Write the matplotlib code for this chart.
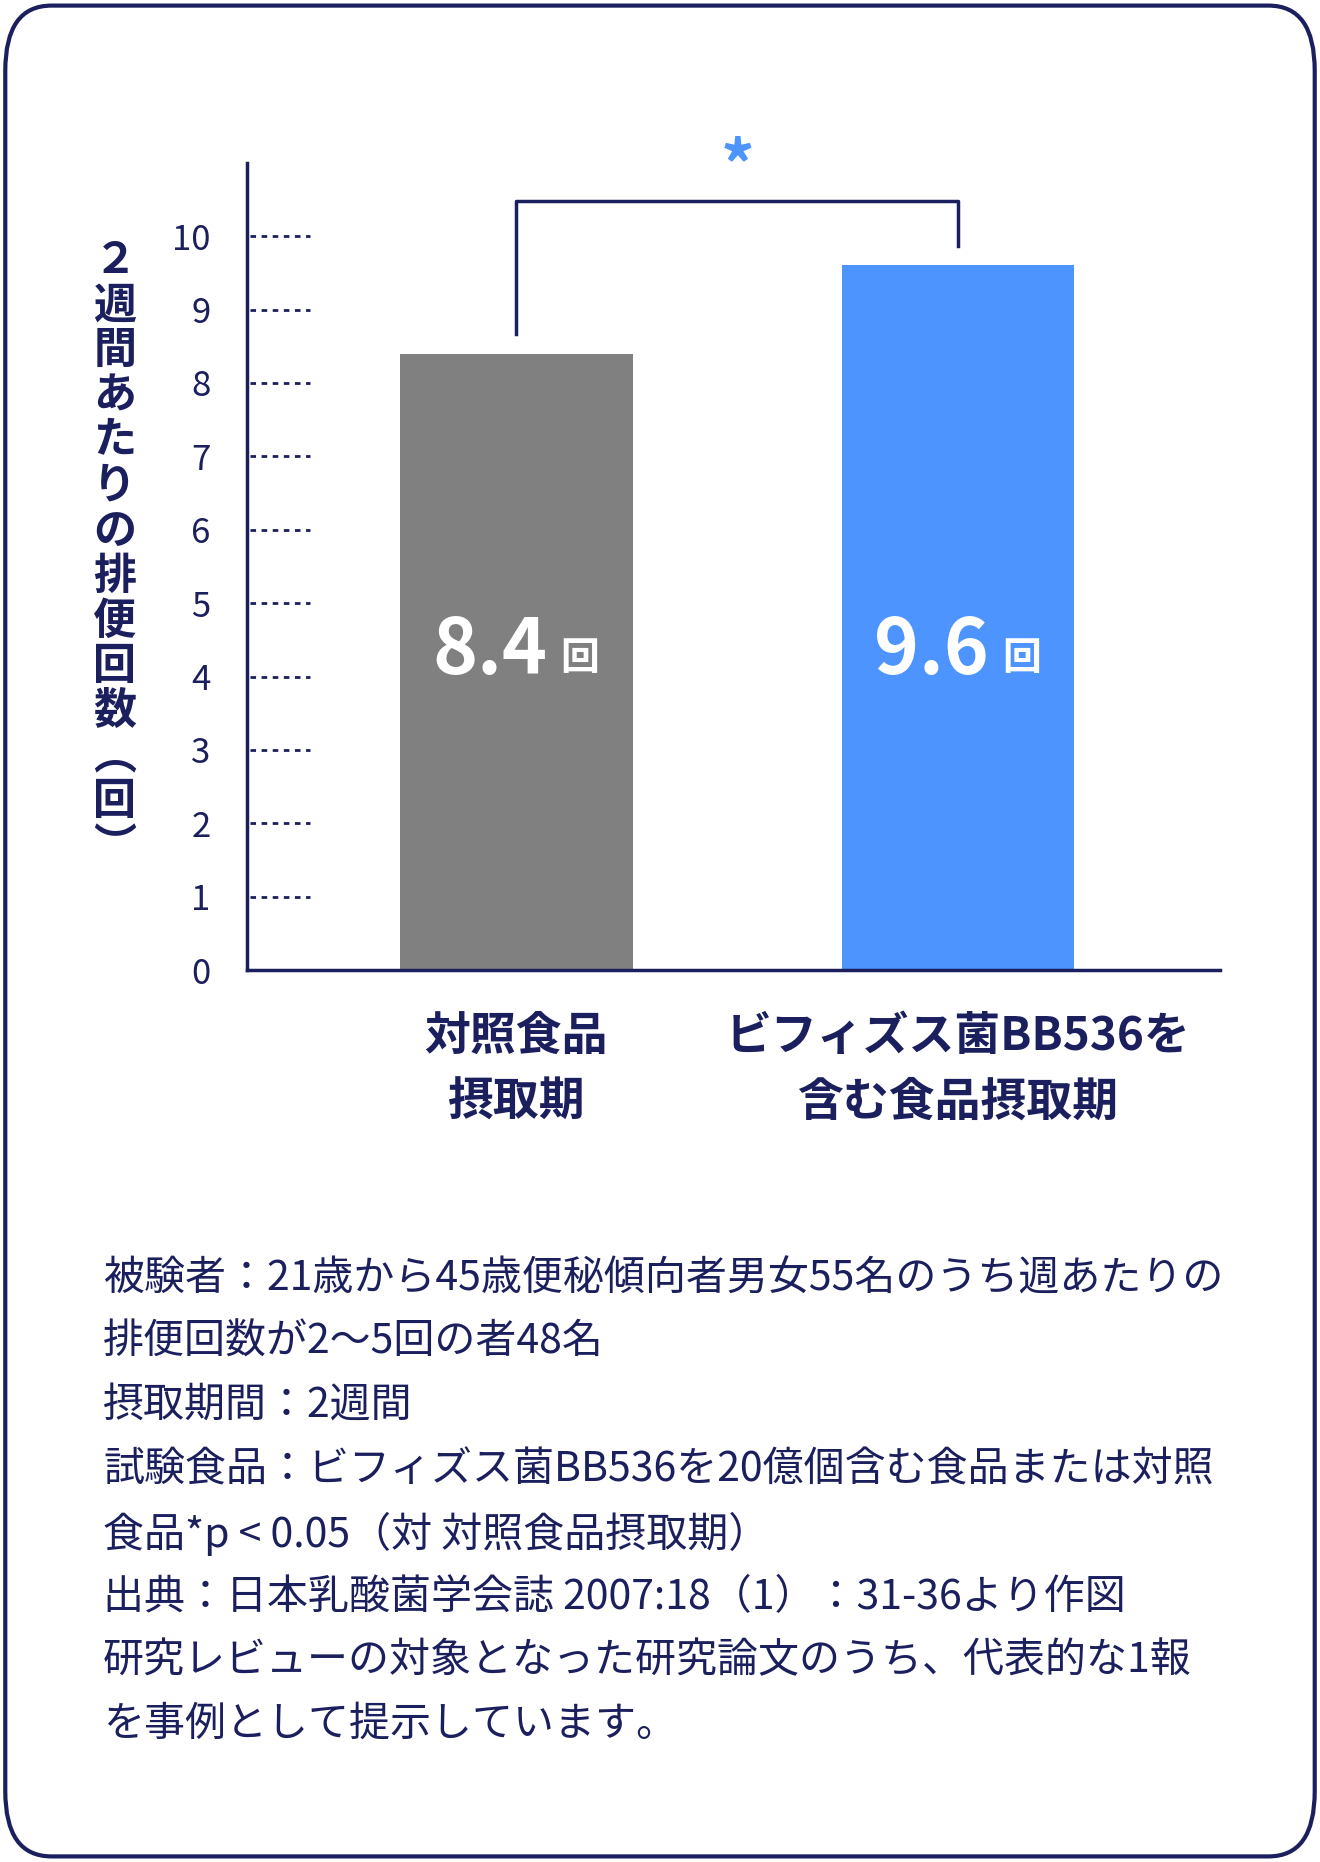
import matplotlib.pyplot as plt
from matplotlib.patches import FancyBboxPatch

plt.rcParams['font.family'] = 'Noto Sans CJK JP'

categories = ['対照食品\n摂取期', 'ビフィズス菌BB536を\n含む食品摂取期']
values = [8.4, 9.6]
value_labels = ['8.4', '9.6']
yticks = list(range(0, 11))
ylabel = '２週間あたりの排便回数︵回︶'
notes = [
    '被験者：21歳から45歳便秘傾向者男女55名のうち週あたりの',
    '排便回数が2～5回の者48名',
    '摂取期間：2週間',
    '試験食品：ビフィズス菌BB536を20億個含む食品または対照',
    '食品*p < 0.05（対 対照食品摂取期）',
    '出典：日本乳酸菌学会誌 2007:18（1）：31-36より作図',
    '研究レビューの対象となった研究論文のうち、代表的な1報',
    'を事例として提示しています。',
]

navy = '#1c1f5e'
colors = ['#808080', '#4d94ff']

fig = plt.figure(figsize=(13.2, 18.62), dpi=100)
fig.patches.append(FancyBboxPatch((0.004, 0.003), 0.992, 0.994,
                                  boxstyle='round,pad=0,rounding_size=0.035',
                                  transform=fig.transFigure, fill=False,
                                  edgecolor=navy, linewidth=3))

ax = fig.add_axes([0.187, 0.479, 0.7375, 0.4336])
x = [0, 1]
ax.bar(x, values, width=0.527, color=colors)
ax.set_xlim(-0.61, 1.594)
ax.set_ylim(0, 11)
for s in ['top', 'right']:
    ax.spines[s].set_visible(False)
for s in ['left', 'bottom']:
    ax.spines[s].set_color(navy)
    ax.spines[s].set_linewidth(2.5)
ax.set_yticks(yticks)
ax.set_yticklabels([str(t) for t in yticks], fontsize=25, color=navy, family='Noto Sans CJK JP')
ax.tick_params(axis='y', length=0, pad=26)
ax.set_xticks([])

for t in yticks[1:]:
    ax.plot([0.003, 0.065], [t, t], transform=ax.get_yaxis_transform(),
            color=navy, linestyle=(0, (2, 2)), linewidth=2, clip_on=False)

for xi, v, lab in zip(x, values, value_labels):
    ax.text(xi + 0.07, 4.35, lab, ha='right', va='center', color='white',
            fontsize=55, fontweight='bold')
    ax.text(xi + 0.10, 4.25, '回', ha='left', va='center', color='white',
            fontsize=28, fontweight='bold')

# significance bracket
ax.plot([0, 0, 1, 1], [8.66, 10.48, 10.48, 9.87], color=navy, linewidth=2.5, clip_on=False)
ax.text(0.5, 10.9, '*', ha='center', va='center', color='#4d94ff', fontsize=48, fontweight='bold')

for xi, c in zip(x, categories):
    ax.text(xi, -0.6, c, ha='center', va='top', color=navy, fontsize=33,
            fontweight='bold', linespacing=1.55)

fig.text(0.087, 0.872, '\n'.join(ylabel), ha='center', va='top', color=navy,
         fontsize=31, fontweight='bold', linespacing=1.03)

for i, line in enumerate(notes):
    fig.text(0.078, 1 - (1077 + i * 53.6) / 1568, line, ha='left', va='center',
             color=navy, fontsize=29.5)

fig.savefig('out.png', dpi=100)
